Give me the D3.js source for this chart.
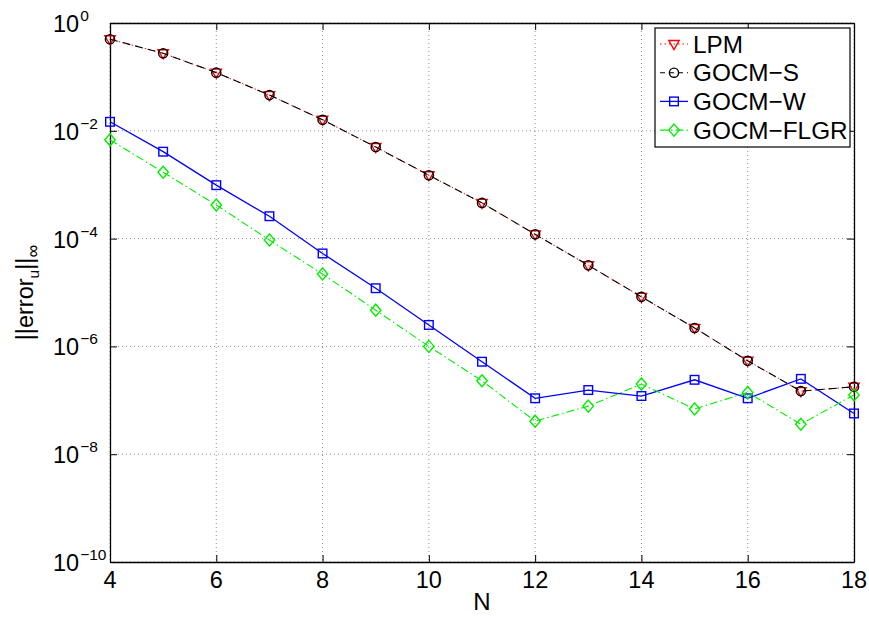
<!DOCTYPE html>
<html>
<head>
<meta charset="utf-8">
<script src="https://cdn.jsdelivr.net/npm/d3@7"></script>
<style>
  body { margin: 0; background: #fff; }
  svg { display: block; font-family: "Liberation Sans", Arial, Helvetica, sans-serif; }
</style>
</head>
<body>
<svg id="chart" width="869" height="618"></svg>
<script>
const N = [4, 5, 6, 7, 8, 9, 10, 11, 12, 13, 14, 15, 16, 17, 18];
const lpm = [0.50, 0.274, 0.12, 0.046, 0.016, 0.005, 0.0015, 4.6e-4, 1.2e-4, 3.2e-5, 8.3e-6, 2.2e-6, 5.4e-7, 1.48e-7, 1.78e-7];
const gocmS = [0.50, 0.274, 0.12, 0.046, 0.016, 0.005, 0.0015, 4.6e-4, 1.2e-4, 3.2e-5, 8.3e-6, 2.2e-6, 5.4e-7, 1.48e-7, 1.78e-7];
const gocmW = [0.0147, 0.0041, 9.8e-4, 2.6e-4, 5.3e-5, 1.2e-5, 2.5e-6, 5.2e-7, 1.09e-7, 1.55e-7, 1.2e-7, 2.4e-7, 1.09e-7, 2.5e-7, 5.7e-8];
const gocmFLGR = [0.0068, 0.0017, 4.2e-4, 9.4e-5, 2.2e-5, 4.7e-6, 1.0e-6, 2.3e-7, 4.1e-8, 7.8e-8, 2.0e-7, 6.9e-8, 1.4e-7, 3.6e-8, 1.26e-7];
const seriesNames = ["LPM", "GOCM\u2212S", "GOCM\u2212W", "GOCM\u2212FLGR"];
const xTicks = [4, 6, 8, 10, 12, 14, 16, 18];
const yTickExps = [0, -2, -4, -6, -8, -10];
const xLabel = "N";

const svg = d3.select("#chart");
const L = 110, R = 854, T = 23, B = 562;
const x = d3.scaleLinear().domain([4, 18]).range([L, R]);
const y = d3.scaleLog().domain([1e-10, 1]).range([B, T]);

// grid
const grid = svg.append("g").attr("stroke", "#909090").attr("stroke-width", 1).attr("stroke-dasharray", "1,3");
xTicks.forEach(t => grid.append("line").attr("x1", x(t)).attr("x2", x(t)).attr("y1", T).attr("y2", B));
yTickExps.forEach(e => grid.append("line").attr("x1", L).attr("x2", R).attr("y1", y(Math.pow(10, e))).attr("y2", y(Math.pow(10, e))));

// axes with D3 (ticks inward)
const xAxisB = d3.axisBottom(x).tickValues(xTicks).tickSizeInner(-7).tickSizeOuter(0).tickFormat("");
const xAxisT = d3.axisTop(x).tickValues(xTicks).tickSizeInner(-7).tickSizeOuter(0).tickFormat("");
const yVals = yTickExps.map(e => Math.pow(10, e));
const yAxisL = d3.axisLeft(y).tickValues(yVals).tickSizeInner(-7).tickSizeOuter(0).tickFormat("");
const yAxisR = d3.axisRight(y).tickValues(yVals).tickSizeInner(-7).tickSizeOuter(0).tickFormat("");
function styleAx(g) { g.selectAll("path").attr("stroke", "#000").attr("stroke-width", 1.3); g.selectAll("line").attr("stroke", "#000").attr("stroke-width", 1); }
svg.append("g").attr("transform", `translate(0,${B})`).call(xAxisB).call(styleAx);
svg.append("g").attr("transform", `translate(0,${T})`).call(xAxisT).call(styleAx);
svg.append("g").attr("transform", `translate(${L},0)`).call(yAxisL).call(styleAx);
svg.append("g").attr("transform", `translate(${R},0)`).call(yAxisR).call(styleAx);

// tick labels
xTicks.forEach(t => svg.append("text").attr("x", x(t)).attr("y", B + 26).attr("text-anchor", "middle")
  .attr("font-size", 23.5).attr("fill", "#000").text(t));
yTickExps.forEach(e => {
  const yy = y(Math.pow(10, e));
  const tx = svg.append("text").attr("x", 53).attr("y", yy + 9).attr("font-size", 23.5).attr("fill", "#000");
  tx.append("tspan").text("10");
  tx.append("tspan").attr("dx", 1).attr("dy", -11).attr("font-size", 15.5).text(e === 0 ? "0" : "\u2212" + Math.abs(e));
});

// axis labels
svg.append("text").attr("x", x(11)).attr("y", 610).attr("text-anchor", "middle").attr("font-size", 24).attr("fill", "#000").text(xLabel);
const yl = svg.append("text").attr("transform", `translate(33,${(T + B) / 2}) rotate(-90)`).attr("text-anchor", "middle")
  .attr("font-size", 23.5).attr("fill", "#000");
yl.append("tspan").text("||error");
yl.append("tspan").attr("font-size", 15.5).attr("dy", 6).text("u");
yl.append("tspan").attr("dy", -6).text("||");
yl.append("tspan").attr("font-size", 18).attr("dy", 6).text("\u221E");

// series
const series = [
  { name: seriesNames[0], vals: lpm, color: "#ff0000", dash: "1.5,3", width: 1, marker: "tri" },
  { name: seriesNames[1], vals: gocmS, color: "#000000", dash: "8,5", width: 1.1, marker: "circle" },
  { name: seriesNames[2], vals: gocmW, color: "#0000ff", dash: null, width: 1.3, marker: "square" },
  { name: seriesNames[3], vals: gocmFLGR, color: "#00ee00", dash: "8,3,1.5,3", width: 1.1, marker: "diamond" }
];
const line = d3.line().x(d => x(d[0])).y(d => y(d[1]));
function drawMarker(g, type, cx, cy, color) {
  if (type === "tri") {
    g.append("path").attr("d", `M${cx - 5.2},${cy - 3.5}L${cx + 5.2},${cy - 3.5}L${cx},${cy + 5.5}Z`)
      .attr("fill", "none").attr("stroke", color).attr("stroke-width", 1.4);
  } else if (type === "circle") {
    g.append("circle").attr("cx", cx).attr("cy", cy).attr("r", 4.6).attr("fill", "none").attr("stroke", color).attr("stroke-width", 1.4);
  } else if (type === "square") {
    g.append("rect").attr("x", cx - 4.3).attr("y", cy - 4.3).attr("width", 8.6).attr("height", 8.6)
      .attr("fill", "none").attr("stroke", color).attr("stroke-width", 1.4);
  } else if (type === "diamond") {
    g.append("path").attr("d", `M${cx},${cy - 6}L${cx + 5.2},${cy}L${cx},${cy + 6}L${cx - 5.2},${cy}Z`)
      .attr("fill", "none").attr("stroke", color).attr("stroke-width", 1.4);
  }
}
series.forEach(s => {
  const g = svg.append("g");
  const pts = N.map((n, i) => [n, s.vals[i]]);
  const p = g.append("path").attr("d", line(pts)).attr("fill", "none").attr("stroke", s.color).attr("stroke-width", s.width);
  if (s.dash) p.attr("stroke-dasharray", s.dash);
  pts.forEach(d => drawMarker(g, s.marker, x(d[0]), y(d[1]), s.color));
});

// legend
const lg = svg.append("g");
lg.append("rect").attr("x", 655).attr("y", 28).attr("width", 195).attr("height", 119).attr("fill", "#fff").attr("stroke", "#000").attr("stroke-width", 1.2);
series.forEach((s, i) => {
  const cy = 44 + i * 28.7;
  const l = lg.append("line").attr("x1", 660).attr("x2", 688).attr("y1", cy).attr("y2", cy).attr("stroke", s.color).attr("stroke-width", s.width);
  if (s.dash) l.attr("stroke-dasharray", s.marker === "circle" ? "5,4" : s.dash);
  drawMarker(lg, s.marker, 674, cy, s.color);
  lg.append("text").attr("x", 693).attr("y", cy + 8.5).attr("font-size", 24.3).attr("fill", "#000").text(s.name);
});
</script>
</body>
</html>
